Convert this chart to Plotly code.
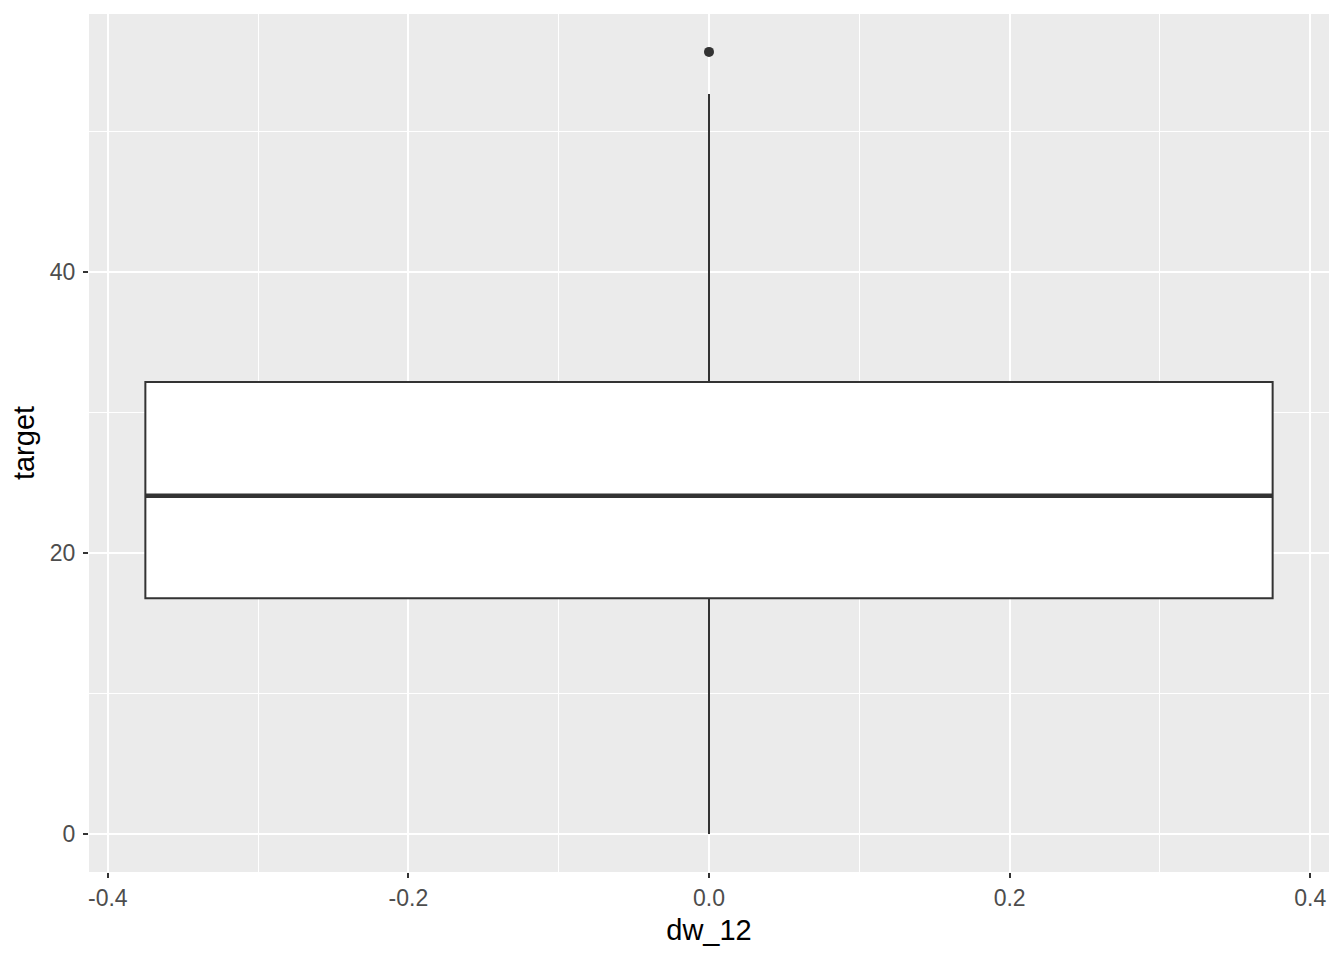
import plotly.graph_objects as go

# box statistics (target by dw_12)
group_x = [0.0]
q1 = [16.8]
median = [24.1]
q3 = [32.2]
lower_fence = [0.0]
upper_fence = [52.7]
outlier_x = [0.0]
outlier_y = [55.7]

box_width = 0.75
x_ticks = [-0.4, -0.2, 0.0, 0.2, 0.4]
x_tick_text = ["-0.4", "-0.2", "0.0", "0.2", "0.4"]
y_ticks = [0, 20, 40]

INK = "#333333"
BG = "#EBEBEB"
FONT = "Liberation Sans, Arial"

fig = go.Figure()
fig.add_trace(go.Box(
    x=group_x, q1=q1, median=median, q3=q3,
    lowerfence=lower_fence, upperfence=upper_fence,
    width=box_width, whiskerwidth=0,
    fillcolor="white", line=dict(color=INK, width=2),
    boxpoints=False, showlegend=False, hoverinfo="skip",
))
# thicker median, as ggplot draws it
fig.add_trace(go.Scatter(
    x=[group_x[0] - box_width / 2, group_x[0] + box_width / 2],
    y=[median[0], median[0]],
    mode="lines", line=dict(color=INK, width=4.5),
    showlegend=False, hoverinfo="skip",
))
fig.add_trace(go.Scatter(
    x=outlier_x, y=outlier_y, mode="markers",
    marker=dict(color=INK, size=10),
    showlegend=False,
))

axis_common = dict(
    showgrid=True, gridcolor="white", gridwidth=2,
    zeroline=False, showline=False,
    ticks="outside", ticklen=5, tickwidth=2, tickcolor=INK,
    tickfont=dict(family=FONT, size=23, color="#4D4D4D"),
)

# the page body has an 8px margin, so the figure is sized to fit inside it
fig.update_layout(
    width=1336, height=952,
    paper_bgcolor="white", plot_bgcolor=BG,
    margin=dict(l=81, r=15, t=6, b=88),
    font=dict(family=FONT, color="black"),
    xaxis=dict(
        axis_common, range=[-0.4125, 0.4125],
        tickmode="array", tickvals=x_ticks, ticktext=x_tick_text,
        minor=dict(showgrid=True, gridcolor="white", gridwidth=1,
                   tickmode="array", tickvals=[-0.3, -0.1, 0.1, 0.3]),
        title=dict(text="dw_12", font=dict(size=29), standoff=10),
    ),
    yaxis=dict(
        axis_common, range=[-2.7, 58.4], ticklabelstandoff=3,
        tickmode="array", tickvals=y_ticks,
        minor=dict(showgrid=True, gridcolor="white", gridwidth=1,
                   tickmode="array", tickvals=[10, 30, 50]),
        title=dict(text="target", font=dict(size=29), standoff=6),
    ),
)

fig.write_html("out.html")
